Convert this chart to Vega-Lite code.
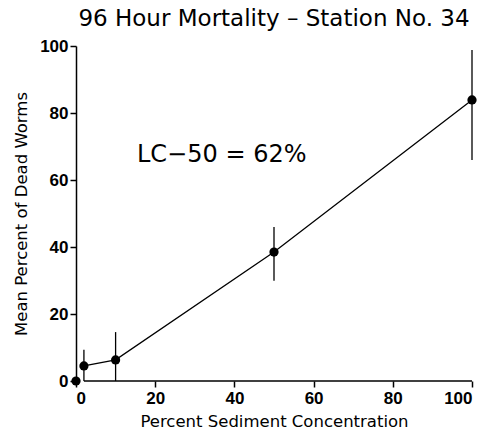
{
  "$schema": "https://vega.github.io/schema/vega-lite/v6.json",
  "autosize": "none",
  "width": 396,
  "height": 335,
  "padding": {"left": 76, "top": 46, "right": 16, "bottom": 60},
  "background": "white",
  "title": {
    "text": "96 Hour Mortality – Station No. 34",
    "font": "DejaVu Sans",
    "fontSize": 23,
    "fontWeight": "normal",
    "color": "black",
    "anchor": "middle",
    "offset": 6
  },
  "config": {
    "view": {"stroke": null},
    "axis": {
      "grid": false,
      "domainColor": "black",
      "tickColor": "black",
      "labelColor": "black",
      "titleColor": "black",
      "labelFont": "Liberation Sans",
      "labelFontWeight": "bold",
      "labelFontSize": 17,
      "titleFont": "DejaVu Sans",
      "titleFontWeight": "normal",
      "titleFontSize": 16.5,
      "tickSize": 6,
      "domainWidth": 1.5,
      "tickWidth": 1.5
    }
  },
  "datasets": {
    "pts": [
      {"conc": 0, "mean": 0},
      {"conc": 2, "mean": 4.5, "lo": 0, "hi": 9.3},
      {"conc": 10, "mean": 6.3, "lo": 0, "hi": 14.6},
      {"conc": 50, "mean": 38.5, "lo": 29.9, "hi": 46},
      {"conc": 100, "mean": 83.9, "lo": 66, "hi": 98.8}
    ],
    "xaxis": [{"x1": 2, "x2": 100, "y": 0}],
    "note": [{"x": 15.4, "y": 67.5, "label": "LC−50 = 62%"}]
  },
  "layer": [
    {
      "data": {"name": "xaxis"},
      "mark": {"type": "rule", "color": "black", "strokeWidth": 1.5},
      "encoding": {
        "x": {"field": "x1", "type": "quantitative", "scale": {"domain": [0, 100]},
          "axis": {"title": "Percent Sediment Concentration", "values": [0, 20, 40, 60, 80, 100], "domain": false, "labelPadding": 3, "titlePadding": 7}},
        "x2": {"field": "x2"},
        "y": {"field": "y", "type": "quantitative", "scale": {"domain": [0, 100]},
          "axis": {"title": "Mean Percent of Dead Worms", "values": [0, 20, 40, 60, 80, 100], "labelPadding": 2, "titlePadding": 10}}
      }
    },
    {
      "data": {"name": "pts"},
      "transform": [{"filter": "datum.conc > 0"}],
      "mark": {"type": "line", "color": "black", "strokeWidth": 1.3},
      "encoding": {
        "x": {"field": "conc", "type": "quantitative"},
        "y": {"field": "mean", "type": "quantitative"}
      }
    },
    {
      "data": {"name": "pts"},
      "transform": [{"filter": "isValid(datum.hi)"}],
      "mark": {"type": "rule", "color": "black", "strokeWidth": 1.3},
      "encoding": {
        "x": {"field": "conc", "type": "quantitative"},
        "y": {"field": "lo", "type": "quantitative"},
        "y2": {"field": "hi"}
      }
    },
    {
      "data": {"name": "pts"},
      "mark": {"type": "point", "filled": true, "color": "black", "opacity": 1, "size": 85},
      "encoding": {
        "x": {"field": "conc", "type": "quantitative"},
        "y": {"field": "mean", "type": "quantitative"}
      }
    },
    {
      "data": {"name": "note"},
      "mark": {"type": "text", "align": "left", "baseline": "middle", "font": "DejaVu Sans", "fontSize": 24, "color": "black"},
      "encoding": {
        "x": {"field": "x", "type": "quantitative"},
        "y": {"field": "y", "type": "quantitative"},
        "text": {"field": "label"}
      }
    }
  ]
}
